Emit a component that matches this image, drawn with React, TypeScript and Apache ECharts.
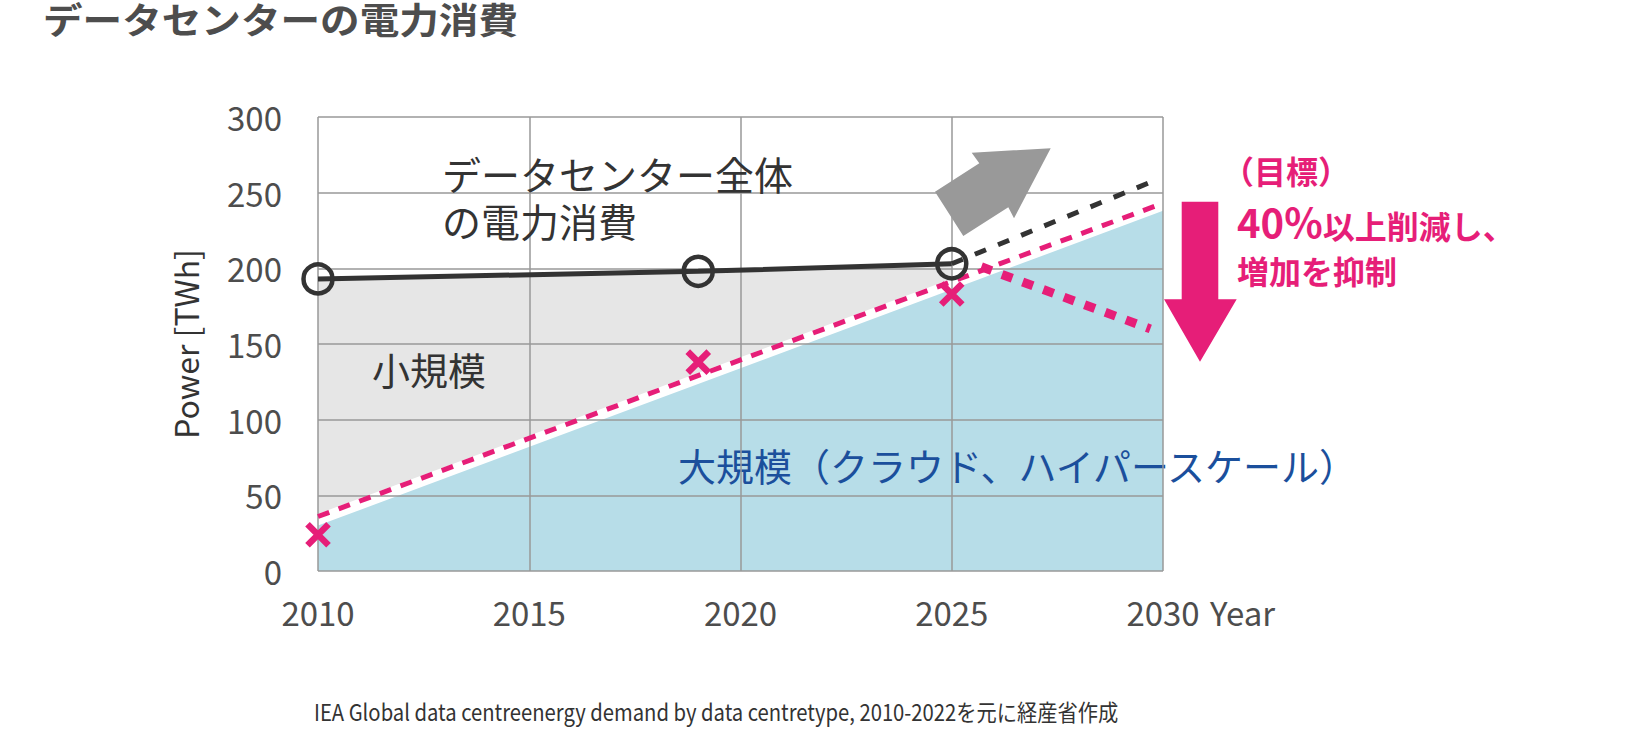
import React, { useEffect, useRef } from "react";
import * as echarts from "echarts";

const FONT = "'Noto Sans CJK JP', 'Noto Sans', sans-serif";
const FONT_TIGHT = "'Liberation Sans', 'Noto Sans CJK JP', sans-serif";
const PINK = "#e61e78";
const DARK = "#333333";
const AXIS_TEXT = "#4d4d4d";

// ---- data ----
const totalYears = [2010, 2019, 2025];
const totalValues = [193, 198, 203];
const totalForecastYears = [2025, 2029.8];
const totalForecastValues = [203, 258];
const largeYears = [2010, 2030];
const largeValues = [30, 238];
const largeTrendYears = [2010, 2030];
const largeTrendValues = [36, 243];
const largeActualYears = [2010, 2019, 2025];
const largeActualValues = [24, 138, 183];
const targetYears = [2025.7, 2029.7];
const targetValues = [201, 160];

const xMin = 2010;
const xMax = 2030;
const xStep = 5;
const yMin = 0;
const yMax = 300;
const yStep = 50;

const titleText = "データセンターの電力消費";
const totalLabel = "データセンター全体\nの電力消費";
const smallLabel = "小規模";
const largeLabel = "大規模（クラウド、ハイパースケール）";
const goalLine1 = "（目標）";
const goalLine2a = "40%";
const goalLine2b = "以上削減し、";
const goalLine3 = "増加を抑制";
const sourceText =
  "IEA Global data centreenergy demand by data centretype, 2010-2022を元に経産省作成";

const pts = (xs: number[], ys: number[]) => xs.map((x, i) => [x, ys[i]]);

export default function App() {
  const ref = useRef<HTMLDivElement>(null);

  useEffect(() => {
    if (!ref.current) return;
    const chart = echarts.init(ref.current, undefined, { renderer: "svg" });

    const option: any = {
      animation: false,
      textStyle: { fontFamily: FONT },
      grid: {
        left: 318,
        right: 477,
        top: 117,
        bottom: 173,
        containLabel: false,
        outerBoundsMode: "none",
      },
      xAxis: {
        type: "value",
        min: xMin,
        max: xMax,
        interval: xStep,
        z: 3,
        axisLine: { show: false },
        axisTick: { show: false },
        splitLine: { show: true, lineStyle: { color: "#999999", width: 1.5 } },
        axisLabel: {
          fontSize: 33,
          color: AXIS_TEXT,
          margin: 24,
          fontFamily: FONT,
          formatter: (v: number) => String(v),
        },
        name: "Year",
        nameLocation: "end",
        nameGap: 47,
        nameTextStyle: {
          fontSize: 33,
          color: AXIS_TEXT,
          fontFamily: FONT,
          align: "left",
          verticalAlign: "top",
          padding: [24, 0, 0, 0],
        },
      },
      yAxis: {
        type: "value",
        min: yMin,
        max: yMax,
        interval: yStep,
        z: 3,
        axisLine: { show: false },
        axisTick: { show: false },
        splitLine: { show: true, lineStyle: { color: "#999999", width: 1.5 } },
        axisLabel: {
          fontSize: 33,
          color: AXIS_TEXT,
          margin: 36,
          fontFamily: FONT,
        },
        name: "Power [TWh]",
        nameLocation: "middle",
        nameGap: 117,
        nameRotate: 90,
        nameTextStyle: { fontSize: 32, color: DARK, fontFamily: FONT },
      },
      series: [
        {
          type: "line",
          data: pts(totalYears, totalValues),
          z: 1,
          symbol: "none",
          silent: true,
          lineStyle: { width: 0 },
          areaStyle: { color: "#e6e6e6", opacity: 1 },
        },
        {
          type: "line",
          data: pts(largeTrendYears, largeTrendValues),
          z: 1,
          symbol: "none",
          silent: true,
          lineStyle: { width: 5, color: "#ffffff" },
          areaStyle: { color: "#ffffff", opacity: 1 },
        },
        {
          type: "line",
          data: pts(largeYears, largeValues),
          z: 1,
          symbol: "none",
          silent: true,
          lineStyle: { width: 0 },
          areaStyle: { color: "#b7dde8", opacity: 1 },
        },
        {
          type: "line",
          data: pts(largeTrendYears, largeTrendValues),
          z: 5,
          symbol: "none",
          lineStyle: { width: 5, color: PINK, type: [12, 10] },
        },
        {
          type: "line",
          data: pts(totalForecastYears, totalForecastValues),
          z: 5,
          symbol: "none",
          lineStyle: { width: 5, color: DARK, type: [12, 13] },
        },
        {
          type: "line",
          data: pts(targetYears, targetValues),
          z: 5,
          symbol: "none",
          lineStyle: { width: 9, color: PINK, type: [11, 11], cap: "butt" },
        },
        {
          type: "line",
          data: pts(totalYears, totalValues),
          z: 6,
          symbol: "circle",
          symbolSize: 29,
          lineStyle: { width: 5, color: DARK },
          itemStyle: {
            color: "rgba(0,0,0,0)",
            borderColor: DARK,
            borderWidth: 4.5,
          },
        },
        {
          type: "scatter",
          data: pts(largeActualYears, largeActualValues),
          z: 7,
          symbol: "path://M0,0L10,10M10,0L0,10",
          symbolSize: 21,
          itemStyle: { color: "rgba(0,0,0,0)", borderColor: PINK, borderWidth: 6.5, opacity: 1 },
        },
      ],
      graphic: [
        {
          type: "text",
          x: 43,
          y: 22,
          z: 10,
          scaleX: 1.1,
          style: {
            text: titleText,
            fontSize: 36,
            fontWeight: "bold",
            fontFamily: FONT_TIGHT,
            fill: AXIS_TEXT,
            verticalAlign: "middle",
          },
        },
        {
          type: "text",
          x: 442,
          y: 200,
          z: 10,
          style: {
            text: totalLabel,
            fontSize: 39,
            lineHeight: 47,
            fontFamily: FONT_TIGHT,
            fill: DARK,
            verticalAlign: "middle",
          },
        },
        {
          type: "text",
          x: 372,
          y: 368,
          z: 10,
          style: { text: smallLabel, fontSize: 38, fontFamily: FONT, fill: DARK, verticalAlign: "middle" },
        },
        {
          type: "text",
          x: 678,
          y: 464,
          z: 2,
          style: { text: largeLabel, fontSize: 38, fontFamily: FONT, fill: "#1b4f9c", verticalAlign: "middle" },
        },
        {
          type: "polygon",
          z: 10,
          shape: {
            points: [
              [1050.7, 148.3],
              [1014, 218.3],
              [1008.3, 207.3],
              [963.3, 236],
              [935, 191.7],
              [979.3, 163.3],
              [971.7, 152.7],
            ],
          },
          style: { fill: "#999999" },
        },
        {
          type: "polygon",
          z: 10,
          shape: {
            points: [
              [1181.7, 201.7],
              [1218.3, 201.7],
              [1218.3, 299.3],
              [1236.7, 299.3],
              [1200, 361.7],
              [1164, 299.3],
              [1181.7, 299.3],
            ],
          },
          style: { fill: PINK },
        },
        {
          type: "text",
          x: 1222,
          y: 170,
          z: 10,
          style: {
            text: goalLine1,
            fontSize: 32,
            fontWeight: "bold",
            fontFamily: FONT,
            fill: PINK,
            verticalAlign: "middle",
          },
        },
        {
          type: "text",
          x: 1237,
          y: 221,
          z: 10,
          style: {
            text: "{a|" + goalLine2a + "}{b|" + goalLine2b + "}",
            fontFamily: FONT,
            fill: PINK,
            verticalAlign: "middle",
            rich: {
              a: { fontSize: 40, fontWeight: "bold", fontFamily: FONT, fill: PINK, verticalAlign: "bottom" },
              b: { fontSize: 32, fontWeight: "bold", fontFamily: FONT, fill: PINK, verticalAlign: "bottom" },
            },
          },
        },
        {
          type: "text",
          x: 1237,
          y: 270,
          z: 10,
          style: {
            text: goalLine3,
            fontSize: 32,
            fontWeight: "bold",
            fontFamily: FONT,
            fill: PINK,
            verticalAlign: "middle",
          },
        },
        {
          type: "text",
          x: 314,
          y: 711,
          z: 10,
          scaleX: 0.88,
          style: {
            text: sourceText,
            fontSize: 23,
            fontFamily: FONT,
            fill: DARK,
            verticalAlign: "middle",
          },
        },
      ],
    };

    chart.setOption(option);
    return () => chart.dispose();
  }, []);

  return (
    <div
      ref={ref}
      style={{ position: "absolute", left: 0, top: 0, width: 1640, height: 744, background: "#fff" }}
    />
  );
}
